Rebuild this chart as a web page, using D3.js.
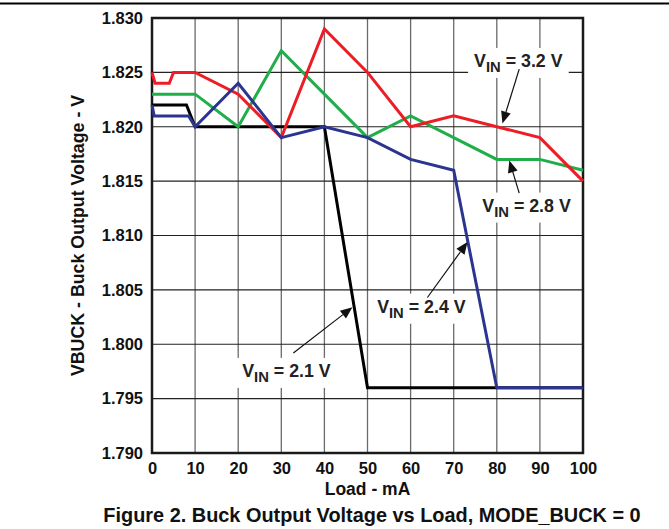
<!DOCTYPE html>
<html><head><meta charset="utf-8">
<script src="https://cdn.jsdelivr.net/npm/d3@7"></script>
<style>
html,body{margin:0;padding:0;background:#fff;}
svg{display:block;font-family:"Liberation Sans",Arial,sans-serif;font-weight:bold;}
</style></head>
<body><svg id="chart" width="669" height="529"></svg>
<script>
// ---- data ----
const xTicks = [0,10,20,30,40,50,60,70,80,90,100];
const yTicks = [1.790,1.795,1.800,1.805,1.810,1.815,1.820,1.825,1.830];

const loadV32 = [0, 0.7, 4, 5, 10, 20, 30, 40, 50, 60, 70, 80, 90, 100];
const vout32  = [1.825, 1.824, 1.824, 1.825, 1.825, 1.823, 1.819, 1.829, 1.825, 1.820, 1.821, 1.820, 1.819, 1.815];

const loadV28 = [0, 10, 20, 30, 40, 50, 60, 70, 80, 90, 100];
const vout28  = [1.823, 1.823, 1.820, 1.827, 1.823, 1.819, 1.821, 1.819, 1.817, 1.817, 1.816];

const loadV21 = [0, 8, 10, 20, 30, 40, 50, 60, 70, 80, 90, 100];
const vout21  = [1.822, 1.822, 1.820, 1.820, 1.820, 1.820, 1.796, 1.796, 1.796, 1.796, 1.796, 1.796];

const loadV24 = [0, 0.5, 8.5, 10, 20, 30, 40, 50, 60, 70, 80, 90, 100];
const vout24  = [1.822, 1.821, 1.821, 1.820, 1.824, 1.819, 1.820, 1.819, 1.817, 1.816, 1.796, 1.796, 1.796];

const seriesNames = ["2.1 V", "2.4 V", "2.8 V", "3.2 V"];

// annotation labels: text position (load, V), arrow start and tip (load, V)
const annVin    = ["3.2 V", "2.8 V", "2.4 V", "2.1 V"];
const annTextX  = [85.0, 86.9, 62.5, 31.2];
const annTextY  = [1.8255, 1.8122, 1.8029, 1.7970];
const annFromX  = [85.2, 85.2, 63.9, 32.8];
const annFromY  = [1.8253, 1.8139, 1.8043, 1.7992];
const annToX    = [81.3, 82.9, 73.2, 46.5];
const annToY    = [1.8203, 1.8169, 1.8094, 1.8034];

const xTitle = "Load - mA";
const yTitle = "VBUCK - Buck Output Voltage - V";
const caption = "Figure 2. Buck Output Voltage vs Load, MODE_BUCK = 0";

// ---- layout ----
const svg = d3.select("#chart");
const L = 152, R = 583, T = 18, B = 453;
const x = d3.scaleLinear().domain([0,100]).range([L,R]);
const y = d3.scaleLinear().domain([1.790,1.830]).range([B,T]);

// top rule
svg.append("line").attr("x1",0).attr("x2",669).attr("y1",3.5).attr("y2",3.5)
  .attr("stroke","#000").attr("stroke-width",2);

// grid
const grid = svg.append("g");
grid.selectAll(".vg").data(xTicks.slice(1,-1)).join("line")
  .attr("x1",d=>x(d)).attr("x2",d=>x(d)).attr("y1",T).attr("y2",B)
  .attr("stroke","#6a6a6a").attr("stroke-width",1.3);
grid.selectAll(".hg").data(yTicks.slice(1,-1)).join("line")
  .attr("x1",L).attr("x2",R).attr("y1",d=>y(d)).attr("y2",d=>y(d))
  .attr("stroke","#222").attr("stroke-width",1.1);

// axes (labels only)
const xAxis = d3.axisBottom(x).tickValues(xTicks).tickSize(0).tickPadding(9).tickFormat(d3.format("d"));
const gx = svg.append("g").attr("transform",`translate(0,${B})`).call(xAxis);
gx.select(".domain").remove();
gx.selectAll("text").attr("font-size",16.5).attr("font-weight","bold").attr("fill","#111")
  .attr("font-family","Liberation Sans, Arial, sans-serif");

const yAxis = d3.axisLeft(y).tickValues(yTicks).tickSize(0).tickPadding(9).tickFormat(d3.format(".3f"));
const gy = svg.append("g").attr("transform",`translate(${L},0)`).call(yAxis);
gy.select(".domain").remove();
gy.selectAll("text").attr("font-size",16.5).attr("font-weight","bold").attr("fill","#111")
  .attr("font-family","Liberation Sans, Arial, sans-serif");

// annotation boxes + labels
const ann = svg.append("g");
annVin.forEach((v,i)=>{
  const g = ann.append("g");
  const t = g.append("text").attr("x",x(annTextX[i])).attr("y",y(annTextY[i]))
    .attr("text-anchor","middle").attr("font-size",17.8).attr("fill","#222");
  t.append("tspan").text("V");
  t.append("tspan").attr("font-size",14.8).attr("dy",5).text("IN");
  t.append("tspan").attr("dy",-5).text(" = " + v);
  const bb = t.node().getBBox();
  g.insert("rect","text").attr("x",bb.x-6).attr("y",bb.y-3).attr("width",bb.width+12).attr("height",bb.height+6)
    .attr("fill","#fff");
});

// frame
svg.append("rect").attr("x",L).attr("y",T).attr("width",R-L).attr("height",B-T)
  .attr("fill","none").attr("stroke","#1a1a1a").attr("stroke-width",2.5);

// lines
const line = d3.line().x(d=>x(d[0])).y(d=>y(d[1]));
const series = [
  {name:seriesNames[0], xs:loadV21, ys:vout21, color:"#000000"},
  {name:seriesNames[2], xs:loadV28, ys:vout28, color:"#1fae4a"},
  {name:seriesNames[3], xs:loadV32, ys:vout32, color:"#ee1c25"},
  {name:seriesNames[1], xs:loadV24, ys:vout24, color:"#2b3590"}
];
svg.append("g").selectAll("path").data(series).join("path")
  .attr("d",s=>line(s.xs.map((v,i)=>[v,s.ys[i]])))
  .attr("fill","none").attr("stroke",s=>s.color).attr("stroke-width",3)
  .attr("stroke-linejoin","miter");

// arrows
const arrows = svg.append("g");
annVin.forEach((v,i)=>{
  const x1=x(annFromX[i]), y1=y(annFromY[i]), x2=x(annToX[i]), y2=y(annToY[i]);
  const ang = Math.atan2(y2-y1, x2-x1);
  const hl = 12, hw = 5;
  const bx = x2 - hl*Math.cos(ang), by = y2 - hl*Math.sin(ang);
  arrows.append("line").attr("x1",x1).attr("y1",y1).attr("x2",bx).attr("y2",by)
    .attr("stroke","#111").attr("stroke-width",1.2);
  const p = [[x2,y2],[bx - hw*Math.sin(ang), by + hw*Math.cos(ang)],[bx + hw*Math.sin(ang), by - hw*Math.cos(ang)]];
  arrows.append("path").attr("d","M"+p.map(q=>q.join(",")).join("L")+"Z").attr("fill","#111");
});

// titles
svg.append("text").attr("x",(L+R)/2).attr("y",495).attr("text-anchor","middle")
  .attr("font-size",17.5).attr("fill","#111").text(xTitle);
svg.append("text").attr("transform",`translate(84,${(T+B)/2}) rotate(-90)`).attr("text-anchor","middle")
  .attr("font-size",17.8).attr("fill","#111").text(yTitle);
svg.append("text").attr("x",372).attr("y",522).attr("text-anchor","middle")
  .attr("font-size",19.9).attr("fill","#111").text(caption);
</script></body></html>
